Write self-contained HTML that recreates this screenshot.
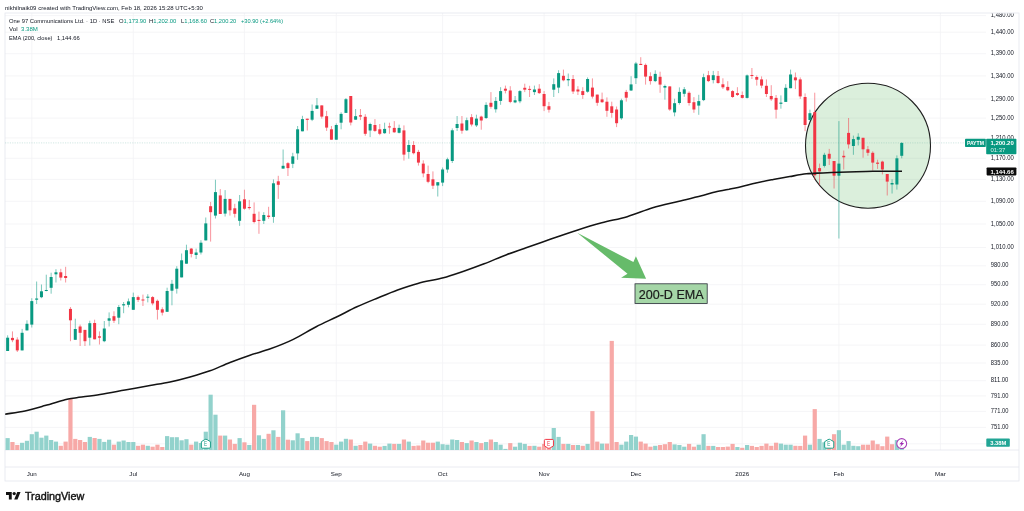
<!DOCTYPE html>
<html lang="en"><head><meta charset="utf-8"><title>PAYTM chart</title>
<style>
html,body{margin:0;padding:0;background:#fff;}
body{width:1024px;height:511px;position:relative;overflow:hidden;font-family:"Liberation Sans",sans-serif;color:#131722;}
.chart{position:absolute;left:0;top:0;display:block;}
.t{position:absolute;white-space:nowrap;font-size:6.1px;line-height:8px;transform-origin:0 0;}
.t b{font-weight:normal;color:#089981;}
.t.g{color:#089981;}
</style></head><body>
<svg class="chart" width="1024" height="511" viewBox="0 0 1024 511"><g stroke="#f2f3f5" stroke-width="0.8" fill="none"><line x1="5" x2="986" y1="15.6" y2="15.6"/><line x1="5" x2="986" y1="32.2" y2="32.2"/><line x1="5" x2="986" y1="53.7" y2="53.7"/><line x1="5" x2="986" y1="75.9" y2="75.9"/><line x1="5" x2="986" y1="99.0" y2="99.0"/><line x1="5" x2="986" y1="118.1" y2="118.1"/><line x1="5" x2="986" y1="137.9" y2="137.9"/><line x1="5" x2="986" y1="158.3" y2="158.3"/><line x1="5" x2="986" y1="179.4" y2="179.4"/><line x1="5" x2="986" y1="201.3" y2="201.3"/><line x1="5" x2="986" y1="224.0" y2="224.0"/><line x1="5" x2="986" y1="247.5" y2="247.5"/><line x1="5" x2="986" y1="265.8" y2="265.8"/><line x1="5" x2="986" y1="284.7" y2="284.7"/><line x1="5" x2="986" y1="304.2" y2="304.2"/><line x1="5" x2="986" y1="324.3" y2="324.3"/><line x1="5" x2="986" y1="345.1" y2="345.1"/><line x1="5" x2="986" y1="363.0" y2="363.0"/><line x1="5" x2="986" y1="380.7" y2="380.7"/><line x1="5" x2="986" y1="395.9" y2="395.9"/><line x1="5" x2="986" y1="411.4" y2="411.4"/><line x1="5" x2="986" y1="427.4" y2="427.4"/><line x1="5" x2="986" y1="443.8" y2="443.8"/><line x1="31.8" x2="31.8" y1="13" y2="450"/><line x1="133.3" x2="133.3" y1="13" y2="450"/><line x1="244.4" x2="244.4" y1="13" y2="450"/><line x1="336.3" x2="336.3" y1="13" y2="450"/><line x1="442.6" x2="442.6" y1="13" y2="450"/><line x1="544.1" x2="544.1" y1="13" y2="450"/><line x1="635.9" x2="635.9" y1="13" y2="450"/><line x1="742.2" x2="742.2" y1="13" y2="450"/><line x1="838.9" x2="838.9" y1="13" y2="450"/><line x1="940.4" x2="940.4" y1="13" y2="450"/></g><g stroke="#e4e6ee" stroke-width="0.8" fill="none"><rect x="5" y="13" width="1014" height="468"/><line x1="5" x2="1019" y1="450" y2="450"/><line x1="5" x2="1019" y1="467" y2="467"/></g><g><rect x="5.53" y="438.1" width="4.2" height="11.9" fill="#92d2cc"/><rect x="10.36" y="442.0" width="4.2" height="8.0" fill="#f7a9a7"/><rect x="15.20" y="445.0" width="4.2" height="5.0" fill="#f7a9a7"/><rect x="20.03" y="442.8" width="4.2" height="7.2" fill="#92d2cc"/><rect x="24.86" y="440.8" width="4.2" height="9.2" fill="#92d2cc"/><rect x="29.69" y="434.2" width="4.2" height="15.8" fill="#92d2cc"/><rect x="34.53" y="431.7" width="4.2" height="18.3" fill="#92d2cc"/><rect x="39.36" y="437.7" width="4.2" height="12.3" fill="#92d2cc"/><rect x="44.19" y="435.6" width="4.2" height="14.4" fill="#92d2cc"/><rect x="49.03" y="440.0" width="4.2" height="10.0" fill="#92d2cc"/><rect x="53.86" y="441.6" width="4.2" height="8.4" fill="#92d2cc"/><rect x="58.69" y="445.8" width="4.2" height="4.2" fill="#f7a9a7"/><rect x="63.53" y="441.6" width="4.2" height="8.4" fill="#f7a9a7"/><rect x="68.36" y="398.6" width="4.2" height="51.4" fill="#f7a9a7"/><rect x="73.19" y="438.9" width="4.2" height="11.1" fill="#f7a9a7"/><rect x="78.03" y="440.0" width="4.2" height="10.0" fill="#f7a9a7"/><rect x="82.86" y="442.0" width="4.2" height="8.0" fill="#f7a9a7"/><rect x="87.69" y="436.9" width="4.2" height="13.1" fill="#92d2cc"/><rect x="92.52" y="438.0" width="4.2" height="12.0" fill="#f7a9a7"/><rect x="97.36" y="438.9" width="4.2" height="11.1" fill="#92d2cc"/><rect x="102.19" y="441.9" width="4.2" height="8.1" fill="#92d2cc"/><rect x="107.02" y="439.7" width="4.2" height="10.3" fill="#92d2cc"/><rect x="111.86" y="444.7" width="4.2" height="5.3" fill="#f7a9a7"/><rect x="116.69" y="441.6" width="4.2" height="8.4" fill="#92d2cc"/><rect x="121.52" y="440.5" width="4.2" height="9.5" fill="#92d2cc"/><rect x="126.36" y="442.0" width="4.2" height="8.0" fill="#92d2cc"/><rect x="131.19" y="442.0" width="4.2" height="8.0" fill="#92d2cc"/><rect x="136.02" y="445.8" width="4.2" height="4.2" fill="#f7a9a7"/><rect x="140.85" y="444.7" width="4.2" height="5.3" fill="#f7a9a7"/><rect x="145.69" y="445.8" width="4.2" height="4.2" fill="#92d2cc"/><rect x="150.52" y="446.7" width="4.2" height="3.3" fill="#f7a9a7"/><rect x="155.35" y="444.7" width="4.2" height="5.3" fill="#f7a9a7"/><rect x="160.19" y="447.0" width="4.2" height="3.0" fill="#f7a9a7"/><rect x="165.02" y="436.1" width="4.2" height="13.9" fill="#92d2cc"/><rect x="169.85" y="437.2" width="4.2" height="12.8" fill="#92d2cc"/><rect x="174.69" y="437.2" width="4.2" height="12.8" fill="#92d2cc"/><rect x="179.52" y="440.3" width="4.2" height="9.7" fill="#92d2cc"/><rect x="184.35" y="439.2" width="4.2" height="10.8" fill="#92d2cc"/><rect x="189.18" y="444.7" width="4.2" height="5.3" fill="#f7a9a7"/><rect x="194.02" y="441.6" width="4.2" height="8.4" fill="#92d2cc"/><rect x="198.85" y="443.0" width="4.2" height="7.0" fill="#92d2cc"/><rect x="203.68" y="431.7" width="4.2" height="18.3" fill="#92d2cc"/><rect x="208.52" y="394.7" width="4.2" height="55.3" fill="#92d2cc"/><rect x="213.35" y="414.7" width="4.2" height="35.3" fill="#92d2cc"/><rect x="218.18" y="435.6" width="4.2" height="14.4" fill="#f7a9a7"/><rect x="223.02" y="435.6" width="4.2" height="14.4" fill="#92d2cc"/><rect x="227.85" y="439.5" width="4.2" height="10.5" fill="#f7a9a7"/><rect x="232.68" y="443.9" width="4.2" height="6.1" fill="#f7a9a7"/><rect x="237.51" y="438.1" width="4.2" height="11.9" fill="#92d2cc"/><rect x="242.35" y="442.3" width="4.2" height="7.7" fill="#f7a9a7"/><rect x="247.18" y="445.0" width="4.2" height="5.0" fill="#92d2cc"/><rect x="252.01" y="404.8" width="4.2" height="45.2" fill="#f7a9a7"/><rect x="256.85" y="435.3" width="4.2" height="14.7" fill="#92d2cc"/><rect x="261.68" y="438.9" width="4.2" height="11.1" fill="#92d2cc"/><rect x="266.51" y="433.8" width="4.2" height="16.2" fill="#f7a9a7"/><rect x="271.34" y="430.3" width="4.2" height="19.7" fill="#92d2cc"/><rect x="276.18" y="436.9" width="4.2" height="13.1" fill="#f7a9a7"/><rect x="281.01" y="410.3" width="4.2" height="39.7" fill="#92d2cc"/><rect x="285.84" y="439.7" width="4.2" height="10.3" fill="#f7a9a7"/><rect x="290.68" y="440.3" width="4.2" height="9.7" fill="#92d2cc"/><rect x="295.51" y="433.3" width="4.2" height="16.7" fill="#92d2cc"/><rect x="300.34" y="438.1" width="4.2" height="11.9" fill="#92d2cc"/><rect x="305.18" y="441.1" width="4.2" height="8.9" fill="#f7a9a7"/><rect x="310.01" y="436.9" width="4.2" height="13.1" fill="#92d2cc"/><rect x="314.84" y="436.9" width="4.2" height="13.1" fill="#92d2cc"/><rect x="319.68" y="438.1" width="4.2" height="11.9" fill="#f7a9a7"/><rect x="324.51" y="441.1" width="4.2" height="8.9" fill="#f7a9a7"/><rect x="329.34" y="442.0" width="4.2" height="8.0" fill="#f7a9a7"/><rect x="334.17" y="444.7" width="4.2" height="5.3" fill="#92d2cc"/><rect x="339.01" y="441.6" width="4.2" height="8.4" fill="#92d2cc"/><rect x="343.84" y="438.8" width="4.2" height="11.2" fill="#92d2cc"/><rect x="348.67" y="439.5" width="4.2" height="10.5" fill="#f7a9a7"/><rect x="353.51" y="445.8" width="4.2" height="4.2" fill="#92d2cc"/><rect x="358.34" y="445.0" width="4.2" height="5.0" fill="#f7a9a7"/><rect x="363.17" y="441.6" width="4.2" height="8.4" fill="#f7a9a7"/><rect x="368.00" y="443.6" width="4.2" height="6.4" fill="#92d2cc"/><rect x="372.84" y="445.8" width="4.2" height="4.2" fill="#f7a9a7"/><rect x="377.67" y="446.7" width="4.2" height="3.3" fill="#f7a9a7"/><rect x="382.50" y="445.9" width="4.2" height="4.1" fill="#92d2cc"/><rect x="387.34" y="443.6" width="4.2" height="6.4" fill="#92d2cc"/><rect x="392.17" y="443.9" width="4.2" height="6.1" fill="#f7a9a7"/><rect x="397.00" y="443.9" width="4.2" height="6.1" fill="#92d2cc"/><rect x="401.84" y="439.5" width="4.2" height="10.5" fill="#f7a9a7"/><rect x="406.67" y="441.6" width="4.2" height="8.4" fill="#92d2cc"/><rect x="411.50" y="445.9" width="4.2" height="4.1" fill="#f7a9a7"/><rect x="416.33" y="445.5" width="4.2" height="4.5" fill="#f7a9a7"/><rect x="421.17" y="440.5" width="4.2" height="9.5" fill="#f7a9a7"/><rect x="426.00" y="442.7" width="4.2" height="7.3" fill="#f7a9a7"/><rect x="430.83" y="442.7" width="4.2" height="7.3" fill="#f7a9a7"/><rect x="435.67" y="441.6" width="4.2" height="8.4" fill="#92d2cc"/><rect x="440.50" y="444.2" width="4.2" height="5.8" fill="#92d2cc"/><rect x="445.33" y="444.7" width="4.2" height="5.3" fill="#92d2cc"/><rect x="450.17" y="439.5" width="4.2" height="10.5" fill="#92d2cc"/><rect x="455.00" y="440.0" width="4.2" height="10.0" fill="#92d2cc"/><rect x="459.83" y="442.0" width="4.2" height="8.0" fill="#f7a9a7"/><rect x="464.66" y="443.1" width="4.2" height="6.9" fill="#92d2cc"/><rect x="469.50" y="440.5" width="4.2" height="9.5" fill="#f7a9a7"/><rect x="474.33" y="442.0" width="4.2" height="8.0" fill="#92d2cc"/><rect x="479.16" y="443.1" width="4.2" height="6.9" fill="#f7a9a7"/><rect x="484.00" y="442.0" width="4.2" height="8.0" fill="#92d2cc"/><rect x="488.83" y="439.5" width="4.2" height="10.5" fill="#f7a9a7"/><rect x="493.66" y="442.0" width="4.2" height="8.0" fill="#92d2cc"/><rect x="498.50" y="444.7" width="4.2" height="5.3" fill="#92d2cc"/><rect x="503.33" y="448.9" width="4.2" height="1.1" fill="#92d2cc"/><rect x="508.16" y="443.1" width="4.2" height="6.9" fill="#f7a9a7"/><rect x="513.00" y="446.7" width="4.2" height="3.3" fill="#92d2cc"/><rect x="517.83" y="442.7" width="4.2" height="7.3" fill="#92d2cc"/><rect x="522.66" y="443.9" width="4.2" height="6.1" fill="#92d2cc"/><rect x="527.49" y="445.9" width="4.2" height="4.1" fill="#f7a9a7"/><rect x="532.33" y="445.8" width="4.2" height="4.2" fill="#92d2cc"/><rect x="537.16" y="446.7" width="4.2" height="3.3" fill="#f7a9a7"/><rect x="541.99" y="443.9" width="4.2" height="6.1" fill="#f7a9a7"/><rect x="546.83" y="444.5" width="4.2" height="5.5" fill="#f7a9a7"/><rect x="551.66" y="428.0" width="4.2" height="22.0" fill="#92d2cc"/><rect x="556.49" y="436.9" width="4.2" height="13.1" fill="#92d2cc"/><rect x="561.33" y="443.9" width="4.2" height="6.1" fill="#f7a9a7"/><rect x="566.16" y="443.9" width="4.2" height="6.1" fill="#92d2cc"/><rect x="570.99" y="445.0" width="4.2" height="5.0" fill="#f7a9a7"/><rect x="575.82" y="445.0" width="4.2" height="5.0" fill="#92d2cc"/><rect x="580.66" y="445.8" width="4.2" height="4.2" fill="#f7a9a7"/><rect x="585.49" y="443.9" width="4.2" height="6.1" fill="#92d2cc"/><rect x="590.32" y="411.1" width="4.2" height="38.9" fill="#f7a9a7"/><rect x="595.16" y="441.6" width="4.2" height="8.4" fill="#f7a9a7"/><rect x="599.99" y="443.6" width="4.2" height="6.4" fill="#92d2cc"/><rect x="604.82" y="443.6" width="4.2" height="6.4" fill="#f7a9a7"/><rect x="609.65" y="340.9" width="4.2" height="109.1" fill="#f7a9a7"/><rect x="614.49" y="442.0" width="4.2" height="8.0" fill="#f7a9a7"/><rect x="619.32" y="444.7" width="4.2" height="5.3" fill="#92d2cc"/><rect x="624.15" y="441.6" width="4.2" height="8.4" fill="#92d2cc"/><rect x="628.99" y="435.0" width="4.2" height="15.0" fill="#92d2cc"/><rect x="633.82" y="436.6" width="4.2" height="13.4" fill="#92d2cc"/><rect x="638.65" y="441.6" width="4.2" height="8.4" fill="#f7a9a7"/><rect x="643.49" y="443.6" width="4.2" height="6.4" fill="#f7a9a7"/><rect x="648.32" y="446.7" width="4.2" height="3.3" fill="#f7a9a7"/><rect x="653.15" y="445.8" width="4.2" height="4.2" fill="#92d2cc"/><rect x="657.99" y="445.0" width="4.2" height="5.0" fill="#f7a9a7"/><rect x="662.82" y="444.2" width="4.2" height="5.8" fill="#f7a9a7"/><rect x="667.65" y="442.0" width="4.2" height="8.0" fill="#f7a9a7"/><rect x="672.48" y="444.4" width="4.2" height="5.6" fill="#92d2cc"/><rect x="677.32" y="445.0" width="4.2" height="5.0" fill="#92d2cc"/><rect x="682.15" y="446.7" width="4.2" height="3.3" fill="#92d2cc"/><rect x="686.98" y="443.9" width="4.2" height="6.1" fill="#f7a9a7"/><rect x="691.82" y="446.7" width="4.2" height="3.3" fill="#f7a9a7"/><rect x="696.65" y="444.7" width="4.2" height="5.3" fill="#92d2cc"/><rect x="701.48" y="434.2" width="4.2" height="15.8" fill="#92d2cc"/><rect x="706.32" y="445.9" width="4.2" height="4.1" fill="#f7a9a7"/><rect x="711.15" y="445.9" width="4.2" height="4.1" fill="#92d2cc"/><rect x="715.98" y="447.0" width="4.2" height="3.0" fill="#f7a9a7"/><rect x="720.81" y="447.0" width="4.2" height="3.0" fill="#f7a9a7"/><rect x="725.65" y="446.6" width="4.2" height="3.4" fill="#f7a9a7"/><rect x="730.48" y="443.9" width="4.2" height="6.1" fill="#f7a9a7"/><rect x="735.31" y="447.0" width="4.2" height="3.0" fill="#92d2cc"/><rect x="740.15" y="447.8" width="4.2" height="2.2" fill="#f7a9a7"/><rect x="744.98" y="445.0" width="4.2" height="5.0" fill="#92d2cc"/><rect x="749.81" y="445.9" width="4.2" height="4.1" fill="#f7a9a7"/><rect x="754.64" y="447.0" width="4.2" height="3.0" fill="#f7a9a7"/><rect x="759.48" y="445.9" width="4.2" height="4.1" fill="#f7a9a7"/><rect x="764.31" y="443.6" width="4.2" height="6.4" fill="#f7a9a7"/><rect x="769.14" y="445.8" width="4.2" height="4.2" fill="#f7a9a7"/><rect x="773.98" y="442.7" width="4.2" height="7.3" fill="#f7a9a7"/><rect x="778.81" y="443.6" width="4.2" height="6.4" fill="#92d2cc"/><rect x="783.64" y="444.7" width="4.2" height="5.3" fill="#92d2cc"/><rect x="788.48" y="444.7" width="4.2" height="5.3" fill="#92d2cc"/><rect x="793.31" y="445.8" width="4.2" height="4.2" fill="#f7a9a7"/><rect x="798.14" y="445.9" width="4.2" height="4.1" fill="#f7a9a7"/><rect x="802.98" y="435.6" width="4.2" height="14.4" fill="#f7a9a7"/><rect x="807.81" y="444.7" width="4.2" height="5.3" fill="#92d2cc"/><rect x="812.64" y="409.1" width="4.2" height="40.9" fill="#f7a9a7"/><rect x="817.47" y="438.9" width="4.2" height="11.1" fill="#92d2cc"/><rect x="822.31" y="442.3" width="4.2" height="7.7" fill="#92d2cc"/><rect x="827.14" y="441.0" width="4.2" height="9.0" fill="#f7a9a7"/><rect x="831.97" y="434.2" width="4.2" height="15.8" fill="#f7a9a7"/><rect x="836.81" y="430.2" width="4.2" height="19.8" fill="#92d2cc"/><rect x="841.64" y="444.7" width="4.2" height="5.3" fill="#92d2cc"/><rect x="846.47" y="441.1" width="4.2" height="8.9" fill="#92d2cc"/><rect x="851.30" y="445.8" width="4.2" height="4.2" fill="#92d2cc"/><rect x="856.14" y="446.2" width="4.2" height="3.8" fill="#92d2cc"/><rect x="860.97" y="444.7" width="4.2" height="5.3" fill="#f7a9a7"/><rect x="865.80" y="444.7" width="4.2" height="5.3" fill="#f7a9a7"/><rect x="870.64" y="440.5" width="4.2" height="9.5" fill="#f7a9a7"/><rect x="875.47" y="444.2" width="4.2" height="5.8" fill="#f7a9a7"/><rect x="880.30" y="446.2" width="4.2" height="3.8" fill="#f7a9a7"/><rect x="885.14" y="436.6" width="4.2" height="13.4" fill="#f7a9a7"/><rect x="889.97" y="444.2" width="4.2" height="5.8" fill="#f7a9a7"/><rect x="894.80" y="440.0" width="4.2" height="10.0" fill="#92d2cc"/><rect x="899.63" y="441.0" width="4.2" height="9.0" fill="#92d2cc"/></g><circle cx="868" cy="145.7" r="62.5" fill="rgba(76,175,80,0.2)" stroke="#1f1f1f" stroke-width="1.1"/><line x1="5" x2="986" y1="142.9" y2="142.9" stroke="#5fae9f" stroke-opacity="0.4" stroke-width="0.7" stroke-dasharray="1.2 1.2"/><g stroke-width="0.75" stroke-opacity="0.7"><line x1="7.63" x2="7.63" y1="335.3" y2="351.0" stroke="#089981"/><line x1="12.46" x2="12.46" y1="331.4" y2="342.2" stroke="#f23645"/><line x1="17.30" x2="17.30" y1="337.3" y2="352.0" stroke="#f23645"/><line x1="22.13" x2="22.13" y1="328.9" y2="350.4" stroke="#089981"/><line x1="26.96" x2="26.96" y1="320.3" y2="330.4" stroke="#089981"/><line x1="31.79" x2="31.79" y1="298.2" y2="327.5" stroke="#089981"/><line x1="36.63" x2="36.63" y1="281.5" y2="304.0" stroke="#089981"/><line x1="41.46" x2="41.46" y1="284.5" y2="298.2" stroke="#089981"/><line x1="46.29" x2="46.29" y1="274.7" y2="291.3" stroke="#089981"/><line x1="51.13" x2="51.13" y1="272.7" y2="293.7" stroke="#089981"/><line x1="55.96" x2="55.96" y1="269.2" y2="282.5" stroke="#089981"/><line x1="60.79" x2="60.79" y1="268.8" y2="280.5" stroke="#f23645"/><line x1="65.63" x2="65.63" y1="266.8" y2="282.5" stroke="#f23645"/><line x1="70.46" x2="70.46" y1="307.0" y2="341.2" stroke="#f23645"/><line x1="75.29" x2="75.29" y1="318.7" y2="339.8" stroke="#089981"/><line x1="80.12" x2="80.12" y1="324.6" y2="346.0" stroke="#f23645"/><line x1="84.96" x2="84.96" y1="329.9" y2="346.0" stroke="#f23645"/><line x1="89.79" x2="89.79" y1="320.7" y2="345.5" stroke="#089981"/><line x1="94.62" x2="94.62" y1="319.7" y2="339.3" stroke="#f23645"/><line x1="99.46" x2="99.46" y1="331.4" y2="344.5" stroke="#f23645"/><line x1="104.29" x2="104.29" y1="321.0" y2="342.2" stroke="#089981"/><line x1="109.12" x2="109.12" y1="312.4" y2="326.5" stroke="#089981"/><line x1="113.96" x2="113.96" y1="311.3" y2="323.0" stroke="#f23645"/><line x1="118.79" x2="118.79" y1="305.0" y2="324.2" stroke="#089981"/><line x1="123.62" x2="123.62" y1="302.0" y2="313.2" stroke="#089981"/><line x1="128.46" x2="128.46" y1="298.5" y2="307.3" stroke="#089981"/><line x1="133.29" x2="133.29" y1="292.6" y2="309.8" stroke="#089981"/><line x1="138.12" x2="138.12" y1="295.6" y2="302.0" stroke="#f23645"/><line x1="142.95" x2="142.95" y1="294.6" y2="306.0" stroke="#f23645"/><line x1="147.79" x2="147.79" y1="294.2" y2="302.4" stroke="#089981"/><line x1="152.62" x2="152.62" y1="296.1" y2="305.3" stroke="#f23645"/><line x1="157.45" x2="157.45" y1="299.5" y2="319.6" stroke="#f23645"/><line x1="162.29" x2="162.29" y1="307.3" y2="315.5" stroke="#f23645"/><line x1="167.12" x2="167.12" y1="287.7" y2="311.8" stroke="#089981"/><line x1="171.95" x2="171.95" y1="279.9" y2="305.3" stroke="#089981"/><line x1="176.78" x2="176.78" y1="266.2" y2="293.6" stroke="#089981"/><line x1="181.62" x2="181.62" y1="253.5" y2="277.4" stroke="#089981"/><line x1="186.45" x2="186.45" y1="244.7" y2="263.7" stroke="#089981"/><line x1="191.28" x2="191.28" y1="248.0" y2="257.4" stroke="#f23645"/><line x1="196.12" x2="196.12" y1="248.6" y2="259.0" stroke="#089981"/><line x1="200.95" x2="200.95" y1="240.2" y2="254.5" stroke="#089981"/><line x1="205.78" x2="205.78" y1="217.5" y2="240.4" stroke="#089981"/><line x1="210.62" x2="210.62" y1="201.9" y2="241.6" stroke="#f23645"/><line x1="215.45" x2="215.45" y1="179.7" y2="218.5" stroke="#089981"/><line x1="220.28" x2="220.28" y1="189.1" y2="214.0" stroke="#f23645"/><line x1="225.12" x2="225.12" y1="190.1" y2="216.5" stroke="#089981"/><line x1="229.95" x2="229.95" y1="198.9" y2="215.6" stroke="#f23645"/><line x1="234.78" x2="234.78" y1="203.8" y2="217.5" stroke="#f23645"/><line x1="239.61" x2="239.61" y1="195.0" y2="225.9" stroke="#089981"/><line x1="244.45" x2="244.45" y1="189.7" y2="209.7" stroke="#f23645"/><line x1="249.28" x2="249.28" y1="199.9" y2="209.7" stroke="#f23645"/><line x1="254.11" x2="254.11" y1="202.4" y2="223.4" stroke="#f23645"/><line x1="258.95" x2="258.95" y1="211.6" y2="233.8" stroke="#f23645"/><line x1="263.78" x2="263.78" y1="212.2" y2="224.0" stroke="#089981"/><line x1="268.61" x2="268.61" y1="206.8" y2="218.9" stroke="#f23645"/><line x1="273.44" x2="273.44" y1="179.4" y2="222.8" stroke="#089981"/><line x1="278.28" x2="278.28" y1="175.8" y2="198.9" stroke="#f23645"/><line x1="283.11" x2="283.11" y1="149.5" y2="168.6" stroke="#089981"/><line x1="287.94" x2="287.94" y1="162.1" y2="176.0" stroke="#f23645"/><line x1="292.78" x2="292.78" y1="152.8" y2="168.1" stroke="#089981"/><line x1="297.61" x2="297.61" y1="126.0" y2="159.8" stroke="#089981"/><line x1="302.44" x2="302.44" y1="115.8" y2="131.3" stroke="#089981"/><line x1="307.28" x2="307.28" y1="118.7" y2="130.5" stroke="#f23645"/><line x1="312.11" x2="312.11" y1="104.5" y2="121.1" stroke="#089981"/><line x1="316.94" x2="316.94" y1="98.0" y2="108.8" stroke="#089981"/><line x1="321.78" x2="321.78" y1="105.4" y2="118.6" stroke="#f23645"/><line x1="326.61" x2="326.61" y1="110.9" y2="130.9" stroke="#f23645"/><line x1="331.44" x2="331.44" y1="126.0" y2="139.7" stroke="#f23645"/><line x1="336.27" x2="336.27" y1="123.4" y2="139.7" stroke="#089981"/><line x1="341.11" x2="341.11" y1="112.3" y2="129.3" stroke="#089981"/><line x1="345.94" x2="345.94" y1="98.0" y2="112.9" stroke="#089981"/><line x1="350.77" x2="350.77" y1="96.0" y2="125.4" stroke="#f23645"/><line x1="355.61" x2="355.61" y1="109.0" y2="119.7" stroke="#089981"/><line x1="360.44" x2="360.44" y1="109.0" y2="120.1" stroke="#f23645"/><line x1="365.27" x2="365.27" y1="114.2" y2="135.8" stroke="#f23645"/><line x1="370.11" x2="370.11" y1="122.7" y2="137.1" stroke="#089981"/><line x1="374.94" x2="374.94" y1="119.1" y2="131.9" stroke="#f23645"/><line x1="379.77" x2="379.77" y1="124.0" y2="135.2" stroke="#f23645"/><line x1="384.60" x2="384.60" y1="122.7" y2="133.8" stroke="#089981"/><line x1="389.44" x2="389.44" y1="122.7" y2="133.8" stroke="#f23645"/><line x1="394.27" x2="394.27" y1="121.1" y2="132.8" stroke="#f23645"/><line x1="399.10" x2="399.10" y1="124.6" y2="133.4" stroke="#089981"/><line x1="403.94" x2="403.94" y1="125.4" y2="160.6" stroke="#f23645"/><line x1="408.77" x2="408.77" y1="140.1" y2="158.7" stroke="#089981"/><line x1="413.60" x2="413.60" y1="141.1" y2="154.4" stroke="#f23645"/><line x1="418.44" x2="418.44" y1="149.9" y2="165.6" stroke="#f23645"/><line x1="423.27" x2="423.27" y1="160.3" y2="177.3" stroke="#f23645"/><line x1="428.10" x2="428.10" y1="165.6" y2="183.2" stroke="#f23645"/><line x1="432.93" x2="432.93" y1="171.4" y2="189.0" stroke="#f23645"/><line x1="437.77" x2="437.77" y1="182.2" y2="196.5" stroke="#089981"/><line x1="442.60" x2="442.60" y1="167.5" y2="186.1" stroke="#089981"/><line x1="447.43" x2="447.43" y1="157.7" y2="172.8" stroke="#089981"/><line x1="452.27" x2="452.27" y1="128.4" y2="163.0" stroke="#089981"/><line x1="457.10" x2="457.10" y1="116.0" y2="131.0" stroke="#089981"/><line x1="461.93" x2="461.93" y1="116.0" y2="133.7" stroke="#f23645"/><line x1="466.76" x2="466.76" y1="117.6" y2="131.0" stroke="#089981"/><line x1="471.60" x2="471.60" y1="114.1" y2="126.4" stroke="#f23645"/><line x1="476.43" x2="476.43" y1="114.7" y2="127.0" stroke="#089981"/><line x1="481.26" x2="481.26" y1="115.7" y2="129.7" stroke="#f23645"/><line x1="486.10" x2="486.10" y1="102.3" y2="119.0" stroke="#089981"/><line x1="490.93" x2="490.93" y1="92.1" y2="108.7" stroke="#f23645"/><line x1="495.76" x2="495.76" y1="97.0" y2="112.6" stroke="#089981"/><line x1="500.60" x2="500.60" y1="87.2" y2="104.8" stroke="#089981"/><line x1="505.43" x2="505.43" y1="85.6" y2="93.4" stroke="#f23645"/><line x1="510.26" x2="510.26" y1="86.2" y2="103.2" stroke="#f23645"/><line x1="515.10" x2="515.10" y1="96.0" y2="103.2" stroke="#089981"/><line x1="519.93" x2="519.93" y1="90.1" y2="103.2" stroke="#089981"/><line x1="524.76" x2="524.76" y1="83.7" y2="92.1" stroke="#f23645"/><line x1="529.59" x2="529.59" y1="85.8" y2="97.0" stroke="#f23645"/><line x1="534.43" x2="534.43" y1="85.6" y2="95.0" stroke="#089981"/><line x1="539.26" x2="539.26" y1="84.2" y2="94.0" stroke="#f23645"/><line x1="544.09" x2="544.09" y1="91.1" y2="111.1" stroke="#f23645"/><line x1="548.93" x2="548.93" y1="101.9" y2="112.6" stroke="#f23645"/><line x1="553.76" x2="553.76" y1="78.4" y2="97.0" stroke="#089981"/><line x1="558.59" x2="558.59" y1="70.2" y2="93.1" stroke="#089981"/><line x1="563.43" x2="563.43" y1="69.6" y2="81.3" stroke="#f23645"/><line x1="568.26" x2="568.26" y1="73.5" y2="86.2" stroke="#089981"/><line x1="573.09" x2="573.09" y1="75.0" y2="94.0" stroke="#f23645"/><line x1="577.92" x2="577.92" y1="86.2" y2="95.0" stroke="#f23645"/><line x1="582.76" x2="582.76" y1="87.2" y2="98.9" stroke="#f23645"/><line x1="587.59" x2="587.59" y1="77.4" y2="92.7" stroke="#089981"/><line x1="592.42" x2="592.42" y1="78.4" y2="98.5" stroke="#f23645"/><line x1="597.26" x2="597.26" y1="94.6" y2="105.8" stroke="#f23645"/><line x1="602.09" x2="602.09" y1="92.6" y2="102.9" stroke="#f23645"/><line x1="606.92" x2="606.92" y1="97.4" y2="116.8" stroke="#f23645"/><line x1="611.75" x2="611.75" y1="101.7" y2="117.7" stroke="#f23645"/><line x1="616.59" x2="616.59" y1="106.5" y2="127.1" stroke="#f23645"/><line x1="621.42" x2="621.42" y1="98.7" y2="119.8" stroke="#089981"/><line x1="626.25" x2="626.25" y1="89.9" y2="101.6" stroke="#f23645"/><line x1="631.09" x2="631.09" y1="76.2" y2="90.9" stroke="#089981"/><line x1="635.92" x2="635.92" y1="61.9" y2="84.0" stroke="#089981"/><line x1="640.75" x2="640.75" y1="57.2" y2="65.0" stroke="#f23645"/><line x1="645.59" x2="645.59" y1="63.5" y2="84.6" stroke="#f23645"/><line x1="650.42" x2="650.42" y1="72.3" y2="84.6" stroke="#f23645"/><line x1="655.25" x2="655.25" y1="70.3" y2="82.1" stroke="#089981"/><line x1="660.09" x2="660.09" y1="71.7" y2="92.8" stroke="#f23645"/><line x1="664.92" x2="664.92" y1="84.6" y2="99.7" stroke="#089981"/><line x1="669.75" x2="669.75" y1="86.4" y2="110.8" stroke="#f23645"/><line x1="674.58" x2="674.58" y1="98.7" y2="116.3" stroke="#089981"/><line x1="679.42" x2="679.42" y1="87.4" y2="104.6" stroke="#089981"/><line x1="684.25" x2="684.25" y1="87.0" y2="96.8" stroke="#089981"/><line x1="689.08" x2="689.08" y1="91.3" y2="105.6" stroke="#f23645"/><line x1="693.92" x2="693.92" y1="97.1" y2="112.8" stroke="#f23645"/><line x1="698.75" x2="698.75" y1="94.8" y2="114.8" stroke="#089981"/><line x1="703.58" x2="703.58" y1="73.7" y2="101.1" stroke="#089981"/><line x1="708.42" x2="708.42" y1="70.9" y2="82.1" stroke="#f23645"/><line x1="713.25" x2="713.25" y1="70.9" y2="83.4" stroke="#089981"/><line x1="718.08" x2="718.08" y1="71.0" y2="83.8" stroke="#f23645"/><line x1="722.91" x2="722.91" y1="78.3" y2="89.0" stroke="#f23645"/><line x1="727.75" x2="727.75" y1="81.2" y2="91.2" stroke="#f23645"/><line x1="732.58" x2="732.58" y1="90.1" y2="97.9" stroke="#f23645"/><line x1="737.41" x2="737.41" y1="87.2" y2="96.0" stroke="#f23645"/><line x1="742.25" x2="742.25" y1="91.5" y2="98.5" stroke="#f23645"/><line x1="747.08" x2="747.08" y1="74.5" y2="98.5" stroke="#089981"/><line x1="751.91" x2="751.91" y1="68.0" y2="79.0" stroke="#f23645"/><line x1="756.75" x2="756.75" y1="75.4" y2="85.6" stroke="#f23645"/><line x1="761.58" x2="761.58" y1="76.4" y2="88.2" stroke="#f23645"/><line x1="766.41" x2="766.41" y1="79.4" y2="97.0" stroke="#f23645"/><line x1="771.24" x2="771.24" y1="85.2" y2="100.9" stroke="#f23645"/><line x1="776.08" x2="776.08" y1="95.0" y2="118.5" stroke="#f23645"/><line x1="780.91" x2="780.91" y1="95.4" y2="108.7" stroke="#089981"/><line x1="785.74" x2="785.74" y1="84.2" y2="101.9" stroke="#089981"/><line x1="790.58" x2="790.58" y1="69.6" y2="88.2" stroke="#089981"/><line x1="795.41" x2="795.41" y1="72.5" y2="89.1" stroke="#f23645"/><line x1="800.24" x2="800.24" y1="77.4" y2="98.9" stroke="#f23645"/><line x1="805.08" x2="805.08" y1="93.4" y2="131.2" stroke="#f23645"/><line x1="809.91" x2="809.91" y1="109.7" y2="120.5" stroke="#089981"/><line x1="814.74" x2="814.74" y1="92.7" y2="179.8" stroke="#f23645"/><line x1="819.57" x2="819.57" y1="163.6" y2="185.1" stroke="#f23645"/><line x1="824.41" x2="824.41" y1="152.8" y2="167.5" stroke="#089981"/><line x1="829.24" x2="829.24" y1="148.9" y2="165.0" stroke="#f23645"/><line x1="834.07" x2="834.07" y1="161.0" y2="188.5" stroke="#f23645"/><line x1="838.91" x2="838.91" y1="121.1" y2="238.5" stroke="#089981"/><line x1="843.74" x2="843.74" y1="150.5" y2="169.5" stroke="#f23645"/><line x1="848.57" x2="848.57" y1="118.0" y2="148.5" stroke="#f23645"/><line x1="853.40" x2="853.40" y1="135.6" y2="154.8" stroke="#089981"/><line x1="858.24" x2="858.24" y1="133.3" y2="145.4" stroke="#089981"/><line x1="863.07" x2="863.07" y1="137.8" y2="157.7" stroke="#f23645"/><line x1="867.90" x2="867.90" y1="146.0" y2="155.8" stroke="#f23645"/><line x1="872.74" x2="872.74" y1="151.3" y2="170.5" stroke="#f23645"/><line x1="877.57" x2="877.57" y1="159.7" y2="168.9" stroke="#f23645"/><line x1="882.40" x2="882.40" y1="160.7" y2="174.4" stroke="#f23645"/><line x1="887.24" x2="887.24" y1="174.0" y2="195.5" stroke="#f23645"/><line x1="892.07" x2="892.07" y1="179.3" y2="193.5" stroke="#089981"/><line x1="896.90" x2="896.90" y1="155.4" y2="189.6" stroke="#089981"/><line x1="901.74" x2="901.74" y1="142.0" y2="158.3" stroke="#089981"/></g><g><rect x="6.13" y="337.7" width="3" height="13.3" fill="#089981"/><rect x="10.96" y="337.9" width="3" height="2.3" fill="#f23645"/><rect x="15.80" y="339.6" width="3" height="10.8" fill="#f23645"/><rect x="20.63" y="332.8" width="3" height="17.6" fill="#089981"/><rect x="25.46" y="323.8" width="3" height="6.6" fill="#089981"/><rect x="30.29" y="301.1" width="3" height="23.5" fill="#089981"/><rect x="35.13" y="298.5" width="3" height="1.2" fill="#089981"/><rect x="39.96" y="291.3" width="3" height="5.9" fill="#089981"/><rect x="44.79" y="290.0" width="3" height="1.0" fill="#089981"/><rect x="49.63" y="277.0" width="3" height="10.8" fill="#089981"/><rect x="54.46" y="272.3" width="3" height="2.0" fill="#089981"/><rect x="59.29" y="272.3" width="3" height="5.3" fill="#f23645"/><rect x="64.13" y="276.0" width="3" height="2.0" fill="#f23645"/><rect x="68.96" y="308.9" width="3" height="11.4" fill="#f23645"/><rect x="73.79" y="329.0" width="3" height="10.8" fill="#089981"/><rect x="78.62" y="326.5" width="3" height="6.3" fill="#f23645"/><rect x="83.46" y="329.9" width="3" height="11.3" fill="#f23645"/><rect x="88.29" y="323.2" width="3" height="14.5" fill="#089981"/><rect x="93.12" y="323.0" width="3" height="16.3" fill="#f23645"/><rect x="97.96" y="336.3" width="3" height="1.4" fill="#f23645"/><rect x="102.79" y="328.5" width="3" height="12.7" fill="#089981"/><rect x="107.62" y="318.3" width="3" height="2.4" fill="#089981"/><rect x="112.46" y="316.2" width="3" height="4.5" fill="#f23645"/><rect x="117.29" y="307.0" width="3" height="10.7" fill="#089981"/><rect x="122.12" y="304.2" width="3" height="1.2" fill="#089981"/><rect x="126.96" y="301.4" width="3" height="3.4" fill="#089981"/><rect x="131.79" y="297.1" width="3" height="12.7" fill="#089981"/><rect x="136.62" y="297.1" width="3" height="2.8" fill="#f23645"/><rect x="141.45" y="299.5" width="3" height="1.0" fill="#f23645"/><rect x="146.29" y="296.7" width="3" height="1.0" fill="#089981"/><rect x="151.12" y="297.1" width="3" height="6.3" fill="#f23645"/><rect x="155.95" y="300.8" width="3" height="9.0" fill="#f23645"/><rect x="160.79" y="309.3" width="3" height="3.3" fill="#f23645"/><rect x="165.62" y="291.0" width="3" height="20.8" fill="#089981"/><rect x="170.45" y="283.8" width="3" height="6.9" fill="#089981"/><rect x="175.28" y="268.7" width="3" height="20.0" fill="#089981"/><rect x="180.12" y="260.3" width="3" height="17.1" fill="#089981"/><rect x="184.95" y="250.2" width="3" height="13.5" fill="#089981"/><rect x="189.78" y="248.6" width="3" height="5.3" fill="#f23645"/><rect x="194.62" y="252.5" width="3" height="2.5" fill="#089981"/><rect x="199.45" y="242.7" width="3" height="9.8" fill="#089981"/><rect x="204.28" y="223.4" width="3" height="17.0" fill="#089981"/><rect x="209.12" y="206.2" width="3" height="6.0" fill="#f23645"/><rect x="213.95" y="192.1" width="3" height="23.5" fill="#089981"/><rect x="218.78" y="195.4" width="3" height="18.6" fill="#f23645"/><rect x="223.62" y="198.9" width="3" height="14.7" fill="#089981"/><rect x="228.45" y="198.9" width="3" height="11.4" fill="#f23645"/><rect x="233.28" y="208.3" width="3" height="5.5" fill="#f23645"/><rect x="238.11" y="201.3" width="3" height="19.5" fill="#089981"/><rect x="242.95" y="199.3" width="3" height="9.4" fill="#f23645"/><rect x="247.78" y="207.0" width="3" height="1.1" fill="#f23645"/><rect x="252.61" y="213.8" width="3" height="8.2" fill="#f23645"/><rect x="257.45" y="219.9" width="3" height="1.0" fill="#f23645"/><rect x="262.28" y="215.0" width="3" height="5.8" fill="#089981"/><rect x="267.11" y="215.6" width="3" height="1.3" fill="#f23645"/><rect x="271.94" y="183.3" width="3" height="33.6" fill="#089981"/><rect x="276.78" y="181.3" width="3" height="3.5" fill="#f23645"/><rect x="281.61" y="165.8" width="3" height="2.8" fill="#089981"/><rect x="286.44" y="163.2" width="3" height="4.9" fill="#f23645"/><rect x="291.28" y="156.4" width="3" height="7.4" fill="#089981"/><rect x="296.11" y="129.3" width="3" height="24.1" fill="#089981"/><rect x="300.94" y="119.1" width="3" height="12.2" fill="#089981"/><rect x="305.78" y="118.7" width="3" height="1.2" fill="#f23645"/><rect x="310.61" y="110.9" width="3" height="8.8" fill="#089981"/><rect x="315.44" y="105.4" width="3" height="3.4" fill="#089981"/><rect x="320.28" y="105.4" width="3" height="11.2" fill="#f23645"/><rect x="325.11" y="116.2" width="3" height="11.4" fill="#f23645"/><rect x="329.94" y="129.3" width="3" height="10.4" fill="#f23645"/><rect x="334.77" y="125.0" width="3" height="14.7" fill="#089981"/><rect x="339.61" y="113.9" width="3" height="8.8" fill="#089981"/><rect x="344.44" y="99.2" width="3" height="13.7" fill="#089981"/><rect x="349.27" y="96.0" width="3" height="26.5" fill="#f23645"/><rect x="354.11" y="116.2" width="3" height="3.5" fill="#089981"/><rect x="358.94" y="115.2" width="3" height="1.4" fill="#f23645"/><rect x="363.77" y="116.8" width="3" height="17.0" fill="#f23645"/><rect x="368.61" y="124.0" width="3" height="6.5" fill="#089981"/><rect x="373.44" y="125.0" width="3" height="5.9" fill="#f23645"/><rect x="378.27" y="129.3" width="3" height="4.5" fill="#f23645"/><rect x="383.10" y="128.9" width="3" height="4.3" fill="#089981"/><rect x="387.94" y="126.4" width="3" height="1.0" fill="#f23645"/><rect x="392.77" y="127.9" width="3" height="4.4" fill="#f23645"/><rect x="397.60" y="127.9" width="3" height="4.9" fill="#089981"/><rect x="402.44" y="130.4" width="3" height="24.2" fill="#f23645"/><rect x="407.27" y="145.0" width="3" height="6.9" fill="#089981"/><rect x="412.10" y="145.0" width="3" height="8.2" fill="#f23645"/><rect x="416.94" y="151.9" width="3" height="10.7" fill="#f23645"/><rect x="421.77" y="163.6" width="3" height="9.8" fill="#f23645"/><rect x="426.60" y="174.0" width="3" height="7.8" fill="#f23645"/><rect x="431.43" y="179.3" width="3" height="6.4" fill="#f23645"/><rect x="436.27" y="182.2" width="3" height="3.3" fill="#089981"/><rect x="441.10" y="169.5" width="3" height="13.1" fill="#089981"/><rect x="445.93" y="159.3" width="3" height="10.2" fill="#089981"/><rect x="450.77" y="130.3" width="3" height="30.7" fill="#089981"/><rect x="455.60" y="124.0" width="3" height="4.0" fill="#089981"/><rect x="460.43" y="123.5" width="3" height="7.2" fill="#f23645"/><rect x="465.26" y="120.2" width="3" height="10.1" fill="#089981"/><rect x="470.10" y="117.2" width="3" height="7.3" fill="#f23645"/><rect x="474.93" y="118.6" width="3" height="6.8" fill="#089981"/><rect x="479.76" y="116.6" width="3" height="3.9" fill="#f23645"/><rect x="484.60" y="104.9" width="3" height="13.1" fill="#089981"/><rect x="489.43" y="102.8" width="3" height="4.0" fill="#f23645"/><rect x="494.26" y="100.9" width="3" height="8.4" fill="#089981"/><rect x="499.10" y="91.1" width="3" height="9.8" fill="#089981"/><rect x="503.93" y="88.7" width="3" height="2.0" fill="#f23645"/><rect x="508.76" y="90.5" width="3" height="11.4" fill="#f23645"/><rect x="513.60" y="100.3" width="3" height="2.1" fill="#089981"/><rect x="518.43" y="91.1" width="3" height="10.2" fill="#089981"/><rect x="523.26" y="87.8" width="3" height="1.9" fill="#f23645"/><rect x="528.09" y="88.9" width="3" height="1.0" fill="#f23645"/><rect x="532.93" y="89.5" width="3" height="2.6" fill="#089981"/><rect x="537.76" y="88.7" width="3" height="4.4" fill="#f23645"/><rect x="542.59" y="94.0" width="3" height="12.2" fill="#f23645"/><rect x="547.43" y="106.2" width="3" height="3.5" fill="#f23645"/><rect x="552.26" y="84.2" width="3" height="5.5" fill="#089981"/><rect x="557.09" y="73.1" width="3" height="14.5" fill="#089981"/><rect x="561.93" y="75.8" width="3" height="4.5" fill="#f23645"/><rect x="566.76" y="79.0" width="3" height="1.3" fill="#089981"/><rect x="571.59" y="79.0" width="3" height="12.5" fill="#f23645"/><rect x="576.42" y="89.5" width="3" height="2.0" fill="#f23645"/><rect x="581.26" y="91.1" width="3" height="3.9" fill="#f23645"/><rect x="586.09" y="79.0" width="3" height="12.7" fill="#089981"/><rect x="590.92" y="87.6" width="3" height="9.0" fill="#f23645"/><rect x="595.76" y="94.6" width="3" height="8.2" fill="#f23645"/><rect x="600.59" y="99.4" width="3" height="2.8" fill="#f23645"/><rect x="605.42" y="101.7" width="3" height="9.1" fill="#f23645"/><rect x="610.25" y="106.3" width="3" height="6.6" fill="#f23645"/><rect x="615.09" y="109.5" width="3" height="13.7" fill="#f23645"/><rect x="619.92" y="100.3" width="3" height="18.0" fill="#089981"/><rect x="624.75" y="91.9" width="3" height="5.8" fill="#f23645"/><rect x="629.59" y="84.4" width="3" height="6.1" fill="#089981"/><rect x="634.42" y="63.5" width="3" height="14.7" fill="#089981"/><rect x="639.25" y="63.9" width="3" height="1.1" fill="#f23645"/><rect x="644.09" y="64.9" width="3" height="11.7" fill="#f23645"/><rect x="648.92" y="76.2" width="3" height="4.9" fill="#f23645"/><rect x="653.75" y="73.9" width="3" height="7.2" fill="#089981"/><rect x="658.59" y="76.8" width="3" height="7.8" fill="#f23645"/><rect x="663.42" y="86.0" width="3" height="1.6" fill="#089981"/><rect x="668.25" y="86.4" width="3" height="23.1" fill="#f23645"/><rect x="673.08" y="103.2" width="3" height="9.2" fill="#089981"/><rect x="677.92" y="91.9" width="3" height="11.1" fill="#089981"/><rect x="682.75" y="89.3" width="3" height="4.5" fill="#089981"/><rect x="687.58" y="92.8" width="3" height="10.2" fill="#f23645"/><rect x="692.42" y="102.2" width="3" height="7.3" fill="#f23645"/><rect x="697.25" y="101.1" width="3" height="4.5" fill="#089981"/><rect x="702.08" y="77.2" width="3" height="22.9" fill="#089981"/><rect x="706.92" y="75.2" width="3" height="5.9" fill="#f23645"/><rect x="711.75" y="75.2" width="3" height="4.9" fill="#089981"/><rect x="716.58" y="75.9" width="3" height="7.1" fill="#f23645"/><rect x="721.41" y="84.3" width="3" height="3.0" fill="#f23645"/><rect x="726.25" y="86.9" width="3" height="3.4" fill="#f23645"/><rect x="731.08" y="91.1" width="3" height="5.9" fill="#f23645"/><rect x="735.91" y="93.1" width="3" height="1.9" fill="#f23645"/><rect x="740.75" y="95.0" width="3" height="2.9" fill="#f23645"/><rect x="745.58" y="75.4" width="3" height="22.5" fill="#089981"/><rect x="750.41" y="75.0" width="3" height="1.0" fill="#f23645"/><rect x="755.25" y="77.0" width="3" height="2.7" fill="#f23645"/><rect x="760.08" y="79.4" width="3" height="6.2" fill="#f23645"/><rect x="764.91" y="85.8" width="3" height="8.2" fill="#f23645"/><rect x="769.74" y="96.0" width="3" height="3.3" fill="#f23645"/><rect x="774.58" y="97.9" width="3" height="11.8" fill="#f23645"/><rect x="779.41" y="102.6" width="3" height="1.2" fill="#089981"/><rect x="784.24" y="87.8" width="3" height="14.1" fill="#089981"/><rect x="789.08" y="74.5" width="3" height="13.7" fill="#089981"/><rect x="793.91" y="77.4" width="3" height="2.9" fill="#f23645"/><rect x="798.74" y="79.4" width="3" height="17.0" fill="#f23645"/><rect x="803.58" y="97.0" width="3" height="28.0" fill="#f23645"/><rect x="808.41" y="113.2" width="3" height="6.8" fill="#089981"/><rect x="813.24" y="112.1" width="3" height="63.2" fill="#f23645"/><rect x="818.07" y="168.1" width="3" height="3.3" fill="#f23645"/><rect x="822.91" y="154.8" width="3" height="11.1" fill="#089981"/><rect x="827.74" y="153.8" width="3" height="4.9" fill="#f23645"/><rect x="832.57" y="161.0" width="3" height="14.7" fill="#f23645"/><rect x="837.41" y="163.6" width="3" height="12.1" fill="#089981"/><rect x="842.24" y="155.8" width="3" height="1.5" fill="#f23645"/><rect x="847.07" y="132.9" width="3" height="11.5" fill="#f23645"/><rect x="851.90" y="139.1" width="3" height="6.9" fill="#089981"/><rect x="856.74" y="136.8" width="3" height="2.9" fill="#089981"/><rect x="861.57" y="137.8" width="3" height="11.5" fill="#f23645"/><rect x="866.40" y="149.3" width="3" height="3.5" fill="#f23645"/><rect x="871.24" y="152.8" width="3" height="9.8" fill="#f23645"/><rect x="876.07" y="162.6" width="3" height="1.2" fill="#f23645"/><rect x="880.90" y="161.6" width="3" height="7.9" fill="#f23645"/><rect x="885.74" y="174.0" width="3" height="7.6" fill="#f23645"/><rect x="890.57" y="183.0" width="3" height="1.5" fill="#089981"/><rect x="895.40" y="158.3" width="3" height="26.2" fill="#089981"/><rect x="900.24" y="143.0" width="3" height="12.8" fill="#089981"/></g><path d="M5.2,414.2 C8.5,413.6 18.4,412.3 25.0,410.9 C31.6,409.5 38.3,407.5 45.0,405.6 C51.7,403.8 60.0,401.1 65.0,399.8 C70.0,398.5 69.2,398.9 75.0,398.0 C80.8,397.1 91.7,395.8 100.0,394.5 C108.3,393.2 116.7,391.5 125.0,390.0 C133.3,388.5 142.5,386.8 150.0,385.5 C157.5,384.2 163.3,383.4 170.0,382.0 C176.7,380.6 183.3,378.9 190.0,377.0 C196.7,375.1 203.3,373.2 210.0,370.8 C216.7,368.3 223.3,365.1 230.0,362.5 C236.7,359.9 243.3,357.5 250.0,355.2 C256.7,352.9 263.2,351.4 270.4,348.8 C277.6,346.2 285.7,343.1 293.3,339.4 C300.9,335.7 309.0,330.4 316.2,326.7 C323.4,323.0 329.7,320.3 336.5,317.0 C343.3,313.7 350.1,309.9 356.9,306.8 C363.7,303.7 370.4,301.0 377.2,298.2 C384.0,295.4 390.8,292.5 397.6,290.0 C404.4,287.5 410.3,285.4 417.9,283.4 C425.5,281.4 435.8,279.8 443.4,277.8 C451.0,275.8 456.9,273.5 463.7,271.2 C470.5,268.9 477.1,266.5 484.1,263.8 C491.2,261.1 499.1,257.5 506.0,254.9 C512.9,252.3 517.9,250.6 525.4,248.0 C532.9,245.4 542.4,242.0 550.9,239.1 C559.4,236.2 567.8,233.1 576.3,230.4 C584.8,227.7 593.3,225.1 601.8,222.8 C610.3,220.5 618.7,219.2 627.2,216.7 C635.7,214.2 644.2,210.4 652.7,207.8 C661.2,205.2 669.6,203.5 678.1,201.4 C686.6,199.3 697.4,196.9 703.6,195.3 C709.8,193.7 711.0,192.9 715.2,191.9 C719.4,190.9 724.7,190.0 729.0,189.2 C733.3,188.3 736.5,187.8 741.0,186.8 C745.5,185.8 750.6,184.2 756.0,183.0 C761.4,181.8 767.6,180.6 773.2,179.5 C778.8,178.4 784.3,177.6 789.8,176.6 C795.3,175.6 800.9,174.4 806.4,173.8 C811.9,173.1 817.5,173.2 823.0,172.9 C828.5,172.7 834.2,172.4 839.7,172.2 C845.2,172.1 850.8,171.9 856.3,171.8 C861.8,171.6 867.4,171.4 872.9,171.3 C878.4,171.2 884.6,171.3 889.5,171.3 C894.4,171.3 899.9,171.3 902.0,171.3" fill="none" stroke="#141414" stroke-width="1.55" stroke-linejoin="round" stroke-linecap="butt"/><polygon points="577.2,232.7 633.4,262.1 635.9,256.2 646.1,278.7 621.1,277.7 627.5,273.8" fill="#66bb6a"/><rect x="635" y="283.8" width="72.2" height="19.8" fill="#a5d6a7" stroke="#2a2e39" stroke-width="0.8"/><text x="671.2" y="298.7" text-anchor="middle" font-family="Liberation Sans, sans-serif" font-size="13.2" fill="#1a1a1a" stroke="#1a1a1a" stroke-width="0.2" textLength="65" lengthAdjust="spacingAndGlyphs">200-D EMA</text><path d="M201.35,441.7 L204.6,439.7 Q205.9,438.7 207.20000000000002,439.7 L210.45000000000002,441.7 V447.0 Q210.45000000000002,448.2 209.25000000000003,448.2 H202.54999999999998 Q201.35,448.2 201.35,447.0 Z" fill="#fff" stroke="#1fa08a" stroke-width="1" stroke-linejoin="round"/><text x="205.6" y="446.2" text-anchor="middle" font-family="Liberation Sans, sans-serif" font-size="6.3" fill="#1fa08a" textLength="3.1" lengthAdjust="spacingAndGlyphs">E</text><path d="M544.35,445.9 L547.6,447.9 Q548.9,448.9 550.1999999999999,447.9 L553.4499999999999,445.9 V440.59999999999997 Q553.4499999999999,439.4 552.2499999999999,439.4 H545.5500000000001 Q544.35,439.4 544.35,440.59999999999997 Z" fill="#fff" stroke="#f23645" stroke-width="1" stroke-linejoin="round"/><text x="548.6" y="445.59999999999997" text-anchor="middle" font-family="Liberation Sans, sans-serif" font-size="6.3" fill="#f23645" textLength="3.1" lengthAdjust="spacingAndGlyphs">E</text><path d="M824.6500000000001,441.7 L827.9000000000001,439.7 Q829.2,438.7 830.5,439.7 L833.75,441.7 V447.0 Q833.75,448.2 832.55,448.2 H825.8500000000001 Q824.6500000000001,448.2 824.6500000000001,447.0 Z" fill="#fff" stroke="#1fa08a" stroke-width="1" stroke-linejoin="round"/><text x="828.9000000000001" y="446.2" text-anchor="middle" font-family="Liberation Sans, sans-serif" font-size="6.3" fill="#1fa08a" textLength="3.1" lengthAdjust="spacingAndGlyphs">E</text><circle cx="901.7" cy="443.6" r="4.95" fill="#fff" stroke="#a63fb8" stroke-width="1.1"/><path d="M903.3,440.3 L899.3,444.3 H901.4 L900.1,447 L904.1,442.9 H902 Z" fill="#9c27b0"/><clipPath id="axclip"><rect x="986" y="13.4" width="33" height="437"/></clipPath><g clip-path="url(#axclip)" font-family="Liberation Sans, sans-serif" font-size="6.4" fill="#131722"><text x="990.8" y="17.2" textLength="23.0" lengthAdjust="spacingAndGlyphs">1,480.00</text><text x="990.8" y="33.8" textLength="23.0" lengthAdjust="spacingAndGlyphs">1,440.00</text><text x="990.8" y="55.3" textLength="23.0" lengthAdjust="spacingAndGlyphs">1,390.00</text><text x="990.8" y="77.5" textLength="23.0" lengthAdjust="spacingAndGlyphs">1,340.00</text><text x="990.8" y="100.6" textLength="23.0" lengthAdjust="spacingAndGlyphs">1,290.00</text><text x="990.8" y="119.7" textLength="23.0" lengthAdjust="spacingAndGlyphs">1,250.00</text><text x="990.8" y="139.5" textLength="23.0" lengthAdjust="spacingAndGlyphs">1,210.00</text><text x="990.8" y="159.9" textLength="23.0" lengthAdjust="spacingAndGlyphs">1,170.00</text><text x="990.8" y="181.0" textLength="23.0" lengthAdjust="spacingAndGlyphs">1,130.00</text><text x="990.8" y="202.9" textLength="23.0" lengthAdjust="spacingAndGlyphs">1,090.00</text><text x="990.8" y="225.6" textLength="23.0" lengthAdjust="spacingAndGlyphs">1,050.00</text><text x="990.8" y="249.1" textLength="23.0" lengthAdjust="spacingAndGlyphs">1,010.00</text><text x="990.8" y="267.4" textLength="17.6" lengthAdjust="spacingAndGlyphs">980.00</text><text x="990.8" y="286.3" textLength="17.6" lengthAdjust="spacingAndGlyphs">950.00</text><text x="990.8" y="305.8" textLength="17.6" lengthAdjust="spacingAndGlyphs">920.00</text><text x="990.8" y="325.9" textLength="17.6" lengthAdjust="spacingAndGlyphs">890.00</text><text x="990.8" y="346.7" textLength="17.6" lengthAdjust="spacingAndGlyphs">860.00</text><text x="990.8" y="364.6" textLength="17.6" lengthAdjust="spacingAndGlyphs">835.00</text><text x="990.8" y="382.3" textLength="17.6" lengthAdjust="spacingAndGlyphs">811.00</text><text x="990.8" y="397.5" textLength="17.6" lengthAdjust="spacingAndGlyphs">791.00</text><text x="990.8" y="413.0" textLength="17.6" lengthAdjust="spacingAndGlyphs">771.00</text><text x="990.8" y="429.0" textLength="17.6" lengthAdjust="spacingAndGlyphs">751.00</text></g><rect x="965" y="138.7" width="20.8" height="8.4" rx="0.8" fill="#089981"/><rect x="986.2" y="138.7" width="30.2" height="15.6" rx="0.8" fill="#089981"/><g font-family="Liberation Sans, sans-serif" fill="#fff"><text x="975.4" y="145" text-anchor="middle" font-size="5.4" font-weight="bold" textLength="17" lengthAdjust="spacingAndGlyphs">PAYTM</text><text x="990.4" y="144.8" font-size="6.2" font-weight="bold" textLength="23.4" lengthAdjust="spacingAndGlyphs">1,200.20</text><text x="990.4" y="151.5" font-size="6" fill-opacity="0.85">01:37</text></g><rect x="986.6" y="167.5" width="29.8" height="7.9" rx="0.8" fill="#0b0b0b"/><text x="990.4" y="173.6" font-family="Liberation Sans, sans-serif" font-size="6.2" font-weight="bold" fill="#fff" textLength="23.4" lengthAdjust="spacingAndGlyphs">1,144.66</text><rect x="986.3" y="438.6" width="23.5" height="8.2" rx="0.8" fill="#22a595"/><text x="990.2" y="444.9" font-family="Liberation Sans, sans-serif" font-size="5.8" font-weight="bold" fill="#fff">3.38M</text><g font-family="Liberation Sans, sans-serif" font-size="6.2" fill="#131722"><text x="31.8" y="476.4" text-anchor="middle">Jun</text><text x="133.3" y="476.4" text-anchor="middle">Jul</text><text x="244.4" y="476.4" text-anchor="middle">Aug</text><text x="336.3" y="476.4" text-anchor="middle">Sep</text><text x="442.6" y="476.4" text-anchor="middle">Oct</text><text x="544.1" y="476.4" text-anchor="middle">Nov</text><text x="635.9" y="476.4" text-anchor="middle">Dec</text><text x="742.2" y="476.4" text-anchor="middle">2026</text><text x="838.9" y="476.4" text-anchor="middle">Feb</text><text x="940.4" y="476.4" text-anchor="middle">Mar</text></g><g transform="translate(6,490.2) scale(0.41,0.425)" fill="#131313"><path d="M14 22H7V11H0V4h14v18zM28 22h-8l7.500-18h8L28 22z"/><circle cx="20" cy="8" r="4"/></g><text x="24.9" y="499.5" font-family="Liberation Sans, sans-serif" font-size="10.5" fill="#131313" stroke="#131313" stroke-width="0.4" textLength="59.4" lengthAdjust="spacingAndGlyphs">TradingView</text></svg>
<div class="t" id="l1" style="left:5px;top:3.7px;transform:scaleX(0.9882)">nikhilnaik09 created with TradingView.com, Feb 18, 2026 15:28 UTC+5:30</div>
<div class="t" id="l2" style="left:9px;top:17.0px;transform:scaleX(0.9566)">One 97 Communications Ltd. · 1D · NSE</div>
<div class="t" style="left:118.6px;top:17.0px;transform:scaleX(0.9582)">O<b>1,173.90</b></div>
<div class="t" style="left:149.2px;top:17.0px;transform:scaleX(0.9734)">H<b>1,202.00</b></div>
<div class="t" style="left:180.5px;top:17.0px;transform:scaleX(0.9544)">L<b>1,168.60</b></div>
<div class="t" style="left:210.4px;top:17.0px;transform:scaleX(0.9343)">C<b>1,200.20</b></div>
<div class="t g" style="left:241px;top:17.0px;transform:scaleX(0.9286)">+30.90 (+2.64%)</div>
<div class="t" id="l3" style="left:9px;top:25.3px;transform:scaleX(1.0142)">Vol</div>
<div class="t g" style="left:20.6px;top:25.3px;transform:scaleX(0.9968)">3.38M</div>
<div class="t" id="l4" style="left:9px;top:34.0px;transform:scaleX(0.9365)">EMA (200, close)</div>
<div class="t" style="left:57.25px;top:34.0px;transform:scaleX(0.9581)">1,144.66</div>
</body></html>
